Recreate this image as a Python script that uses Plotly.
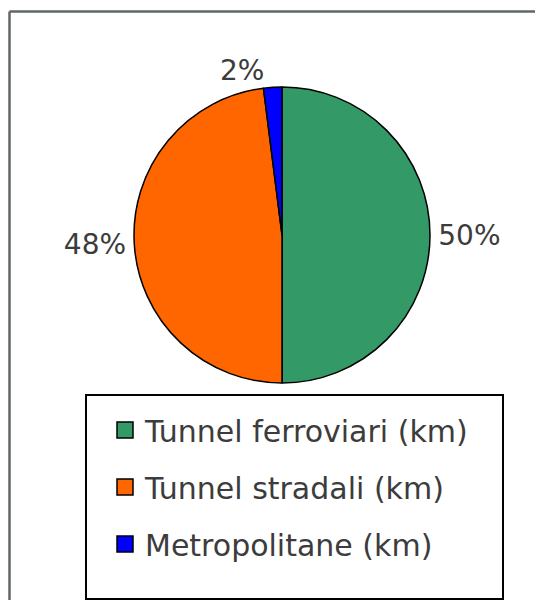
import plotly.graph_objects as go

categories = ["Tunnel ferroviari (km)", "Tunnel stradali (km)", "Metropolitane (km)"]
values = [50, 48, 2]
colors = ["#339966", "#FF6600", "#0000FF"]

FONT = "DejaVu Sans"
TXT = "#3c3c3c"
W, H = 527, 592  # page body adds an 8px margin

fig = go.Figure()
fig.add_trace(go.Pie(
    labels=categories, values=values, sort=False, direction="clockwise", rotation=0,
    marker=dict(colors=colors, line=dict(color="#000000", width=1.5)),
    textposition="outside", texttemplate="%{percent:.0%}",
    textfont=dict(family=FONT, size=28, color=TXT),
    showlegend=False, hoverinfo="label+value+percent",
    domain=dict(x=[(274 - 148) / W, (274 + 148) / W], y=[1 - (227 + 148) / H, 1 - (227 - 148) / H]),
))
for i, (c, col) in enumerate(zip(categories, colors)):
    fig.add_trace(go.Scatter(
        x=[None], y=[None], mode="markers", name=c, legendgroup=f"g{i}",
        marker=dict(symbol="square", size=18, color=col, line=dict(color="#000000", width=1.5)),
    ))

fig.update_layout(
    width=W, height=H,
    margin=dict(l=0, r=0, t=0, b=0),
    paper_bgcolor="#ffffff", plot_bgcolor="#ffffff",
    xaxis=dict(visible=False, showline=False, zeroline=False, showgrid=False),
    yaxis=dict(visible=False, showline=False, zeroline=False, showgrid=False),
    legend=dict(
        x=97 / W, y=1 - 396 / H, xanchor="left", yanchor="top",
        borderwidth=0, bgcolor="rgba(0,0,0,0)",
        font=dict(family=FONT, size=30, color=TXT),
        traceorder="grouped", tracegroupgap=15,
        itemwidth=30,
    ),
    shapes=[
        dict(type="line", xref="paper", yref="paper",
             x0=1.5 / W, x1=1.5 / W, y0=0, y1=1 - 3.5 / H,
             line=dict(color="#5f6669", width=2.5), layer="below"),
        dict(type="line", xref="paper", yref="paper",
             x0=1.5 / W, x1=1.5, y0=1 - 3.5 / H, y1=1 - 3.5 / H,
             line=dict(color="#5f6669", width=2.5), layer="below"),
        dict(type="rect", xref="paper", yref="paper",
             x0=78 / W, x1=495 / W, y0=1 - 591 / H, y1=1 - 387 / H,
             line=dict(color="#000000", width=2), fillcolor="#ffffff", layer="below"),
    ],
)

fig.write_html("out.html")
